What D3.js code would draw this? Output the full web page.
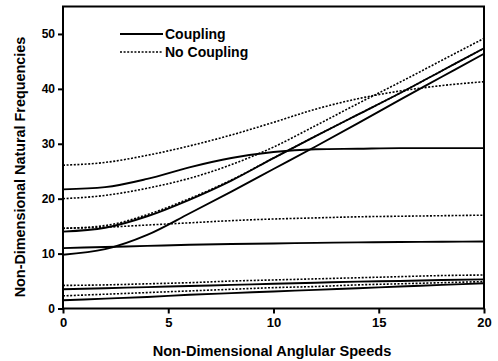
<!DOCTYPE html>
<html>
<head>
<meta charset="utf-8">
<script src="https://cdn.jsdelivr.net/npm/d3@7"></script>
<style>
  html, body { margin: 0; padding: 0; background: #fff; }
  svg { display: block; }
  text { font-family: "Liberation Sans", Arial, sans-serif; font-weight: bold; fill: #000; }
</style>
</head>
<body>
<svg id="chart" width="498" height="361"></svg>
<script>
// Angular speed samples
const speeds = [0, 2, 4, 6, 8, 10, 12, 14, 16, 18, 20];

// Coupling (solid)
const coupA = [21.7, 22.1, 23.6, 25.7, 27.4, 28.5, 29.0, 29.1, 29.2, 29.2, 29.2];
const coupB = [14.0, 14.7, 16.8, 19.8, 23.3, 27.4, 31.4, 35.3, 39.2, 43.3, 47.4];
const coupC = [9.8, 10.8, 13.4, 17.3, 21.3, 25.4, 29.5, 33.7, 38.0, 42.2, 46.4];
const coupD = [11.0, 11.2, 11.4, 11.6, 11.75, 11.85, 11.95, 12.05, 12.1, 12.15, 12.2];
const coupE = [3.5, 3.7, 3.9, 4.1, 4.3, 4.5, 4.7, 4.9, 5.0, 5.2, 5.3];
const coupF = [1.5, 1.8, 2.1, 2.5, 2.8, 3.1, 3.4, 3.7, 4.0, 4.3, 4.6];

// No coupling (dotted)
const noA = [26.1, 26.6, 27.9, 29.6, 31.6, 33.9, 36.3, 38.2, 39.6, 40.6, 41.3];
const noB = [20.0, 20.6, 21.9, 23.7, 26.2, 29.4, 33.3, 37.3, 41.2, 45.2, 49.2];
const noC = [14.6, 15.1, 17.1, 20.0, 23.4, 27.4, 31.4, 35.3, 39.2, 43.3, 47.4];
const noD = [14.6, 14.8, 15.2, 15.6, 16.0, 16.3, 16.5, 16.7, 16.8, 16.9, 17.0];
const noE = [4.2, 4.3, 4.5, 4.7, 5.0, 5.2, 5.4, 5.6, 5.8, 6.0, 6.1];
const noF = [2.3, 2.6, 2.9, 3.2, 3.5, 3.8, 4.0, 4.3, 4.5, 4.7, 4.9];

const xTicks = [0, 5, 10, 15, 20];
const yTicks = [0, 10, 20, 30, 40, 50];
const legendLabels = ["Coupling", "No Coupling"];
const xTitle = "Non-Dimensional Anglular Speeds";
const yTitle = "Non-Dimensional Natural Frequencies";

const svg = d3.select("#chart");
const x = d3.scaleLinear().domain([0, 20]).range([63, 484]);
const y = d3.scaleLinear().domain([0, 55]).range([308.5, 6.5]);

const line = d3.line()
  .x((d, i) => x(speeds[i]))
  .y(d => y(d))
  .curve(d3.curveMonotoneX);

const solids = [coupA, coupB, coupC, coupD, coupE, coupF];
const dotted = [noA, noB, noC, noD, noE, noF];

const plot = svg.append("g");
dotted.forEach(s => {
  plot.append("path").attr("d", line(s))
    .attr("fill", "none").attr("stroke", "#000")
    .attr("stroke-width", 1.6).attr("stroke-dasharray", "2,1.6");
});
solids.forEach(s => {
  plot.append("path").attr("d", line(s))
    .attr("fill", "none").attr("stroke", "#000")
    .attr("stroke-width", 1.9);
});

// frame
svg.append("rect")
  .attr("x", x(0)).attr("y", y(55))
  .attr("width", x(20) - x(0)).attr("height", y(0) - y(55))
  .attr("fill", "none").attr("stroke", "#000").attr("stroke-width", 2);

// axes
const xAxis = d3.axisBottom(x).tickValues(xTicks).tickSize(5).tickPadding(4).tickFormat(d3.format("d"));
const gx = svg.append("g").attr("transform", `translate(0,${y(0)})`).call(xAxis);
gx.select(".domain").remove();
gx.selectAll("line").attr("stroke-width", 2);
gx.selectAll("text").style("font-size", "13px").style("font-family", "Liberation Sans, Arial, sans-serif").style("font-weight", "bold");

const yAxis = d3.axisLeft(y).tickValues(yTicks).tickSize(5).tickPadding(3).tickFormat(d3.format("d"));
const gy = svg.append("g").attr("transform", `translate(${x(0)},0)`).call(yAxis);
gy.select(".domain").remove();
gy.selectAll("line").attr("stroke-width", 2);
gy.selectAll("text").style("font-size", "12px").style("font-family", "Liberation Sans, Arial, sans-serif").style("font-weight", "bold");

// titles
svg.append("text")
  .attr("x", 272).attr("y", 356)
  .attr("text-anchor", "middle")
  .style("font-size", "14.6px")
  .text(xTitle);

svg.append("text")
  .attr("transform", "translate(25,167) rotate(-90)")
  .attr("text-anchor", "middle")
  .style("font-size", "14.4px")
  .text(yTitle);

// legend
const legend = svg.append("g");
legendLabels.forEach((lab, i) => {
  const ly = 34 + i * 18;
  legend.append("line")
    .attr("x1", 120).attr("x2", 163).attr("y1", ly).attr("y2", ly)
    .attr("stroke", "#000").attr("stroke-width", i === 0 ? 1.9 : 1.6)
    .attr("stroke-dasharray", i === 0 ? null : "2,1.6");
  legend.append("text")
    .attr("x", 165).attr("y", ly + 5)
    .style("font-size", "14px")
    .text(lab);
});
</script>
</body>
</html>
